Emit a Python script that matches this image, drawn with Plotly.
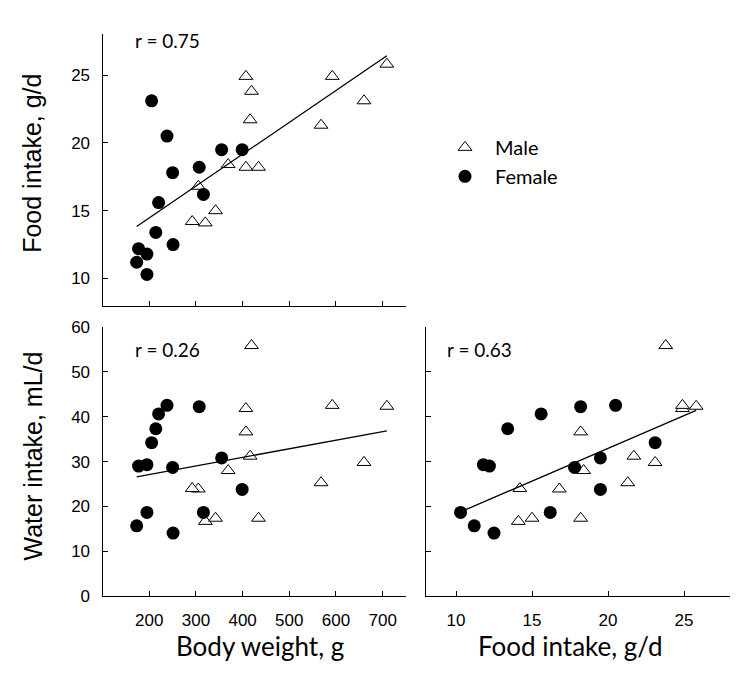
import numpy as np
import plotly.graph_objects as go

# ---- data ----
male_bw = [407, 709, 592, 419, 660, 416, 568, 369, 407, 434, 305, 292, 320, 342]
male_food = [24.9, 25.8, 24.9, 23.8, 23.1, 21.7, 21.3, 18.4, 18.2, 18.2, 16.8, 14.2, 14.1, 15.0]
male_water = [41.8, 42.3, 42.5, 55.8, 29.8, 31.2, 25.3, 28.0, 36.6, 17.4, 23.9, 24.0, 16.7, 17.4]

female_bw = [173, 177, 195, 195, 205, 214, 220, 238, 250, 251, 307, 316, 355, 399]
female_food = [11.2, 12.2, 11.8, 10.3, 23.1, 13.4, 15.6, 20.5, 17.8, 12.5, 18.2, 16.2, 19.5, 19.5]
female_water = [15.7, 29.0, 29.3, 18.7, 34.2, 37.3, 40.6, 42.5, 28.7, 14.1, 42.2, 18.7, 30.8, 23.8]

r_labels = ["r = 0.75", "r = 0.26", "r = 0.63"]
bw_ticks = [200, 300, 400, 500, 600, 700]
food_ticks = [10, 15, 20, 25]
water_ticks = [0, 10, 20, 30, 40, 50, 60]

W, H = 750, 685
OFF = 8  # page body margin offset of the plot div
TICKFONT = dict(family="Liberation Sans, Arial, sans-serif", size=17, color="black")


def px_x(p):
    return (p - OFF) / W


def px_y(p):
    return 1 - (p - OFF) / H


def fit_line(x, y):
    x = np.asarray(x, float)
    y = np.asarray(y, float)
    m, b = np.polyfit(x, y, 1)
    xs = np.array([x.min(), x.max()])
    return xs, m * xs + b


fig = go.Figure()

panels = [
    ("x", "y", male_bw, male_food, female_bw, female_food),
    ("x2", "y2", male_bw, male_water, female_bw, female_water),
    ("x3", "y3", male_food, male_water, female_food, female_water),
]

for i, (xa, ya, mx, my, fx, fy) in enumerate(panels):
    fig.add_trace(go.Scatter(
        x=mx, y=my, mode="markers", name="Male", showlegend=(i == 0),
        legendgroup="m", xaxis=xa, yaxis=ya,
        marker=dict(symbol="triangle-up", size=12, color="white",
                    line=dict(color="black", width=1)),
    ))
    fig.add_trace(go.Scatter(
        x=fx, y=fy, mode="markers", name="Female", showlegend=(i == 0),
        legendgroup="f", xaxis=xa, yaxis=ya,
        marker=dict(symbol="circle", size=13, color="black",
                    line=dict(color="black", width=0)),
    ))
    lx, ly = fit_line(list(mx) + list(fx), list(my) + list(fy))
    fig.add_trace(go.Scatter(
        x=lx, y=ly, mode="lines", showlegend=False, xaxis=xa, yaxis=ya,
        line=dict(color="black", width=1.3), hoverinfo="skip",
    ))

axis_common = dict(
    showline=True, linecolor="black", linewidth=1.3, mirror=False,
    ticks="inside", ticklen=5, tickwidth=1.3, tickcolor="black",
    showgrid=False, zeroline=False, tickfont=TICKFONT,
)

left_dom = [px_x(102.6), px_x(406)]
right_dom = [px_x(425.6), px_x(729.6)]
top_dom = [px_y(304.9), px_y(25.8)]
bot_dom = [px_y(604), px_y(326.5)]

fig.update_layout(
    width=W, height=H,
    margin=dict(l=0, r=0, t=0, b=0),
    paper_bgcolor="white", plot_bgcolor="white",
    xaxis=dict(axis_common, domain=left_dom, range=[100, 750], tickvals=bw_ticks,
               showticklabels=False, anchor="y"),
    yaxis=dict(axis_common, domain=top_dom, range=[8, 28], tickvals=food_ticks,
               anchor="x", ticklabelstandoff=8),
    xaxis2=dict(axis_common, domain=left_dom, range=[100, 750], tickvals=bw_ticks,
                anchor="y2", ticklabelstandoff=8),
    yaxis2=dict(axis_common, domain=bot_dom, range=[0, 60], tickvals=water_ticks,
                anchor="x2", ticklabelstandoff=8),
    xaxis3=dict(axis_common, domain=right_dom, range=[8, 28], tickvals=food_ticks,
                anchor="y3", ticklabelstandoff=8),
    yaxis3=dict(axis_common, domain=bot_dom, range=[0, 60], tickvals=water_ticks,
                showticklabels=False, anchor="x3"),
    legend=dict(
        x=px_x(435), y=px_y(157), xanchor="left", yanchor="middle",
        font=dict(family="Lato, sans-serif", size=20, color="black"),
        bgcolor="rgba(0,0,0,0)", borderwidth=0, itemwidth=50,
        tracegroupgap=0,
    ),
    showlegend=True,
)

ann_font = dict(family="Lato, sans-serif", size=19, color="black")
title_font_b = dict(family="Lato, sans-serif", size=26, color="black")
title_font_l = dict(family="Liberation Sans, Arial, sans-serif", size=25, color="black")

annotations = [
    dict(text=r_labels[0], x=px_x(133), y=px_y(32), xanchor="left", yanchor="middle", font=ann_font),
    dict(text=r_labels[1], x=px_x(133), y=px_y(350), xanchor="left", yanchor="middle", font=ann_font),
    dict(text=r_labels[2], x=px_x(445), y=px_y(350), xanchor="left", yanchor="middle", font=ann_font),
    dict(text="Food intake, g/d", x=px_x(32), y=px_y(159), textangle=-90,
         xanchor="center", yanchor="middle", font=title_font_l),
    dict(text="Water intake, mL/d", x=px_x(33), y=px_y(460), textangle=-90,
         xanchor="center", yanchor="middle", font=title_font_l),
    dict(text="Body weight, g", x=px_x(259.5), y=px_y(655),
         xanchor="center", yanchor="middle", font=title_font_b),
    dict(text="Food intake, g/d", x=px_x(570), y=px_y(655),
         xanchor="center", yanchor="middle", font=title_font_b),
]
for a in annotations:
    a.update(xref="paper", yref="paper", showarrow=False)
fig.update_layout(annotations=annotations)

fig.write_html("out.html")
